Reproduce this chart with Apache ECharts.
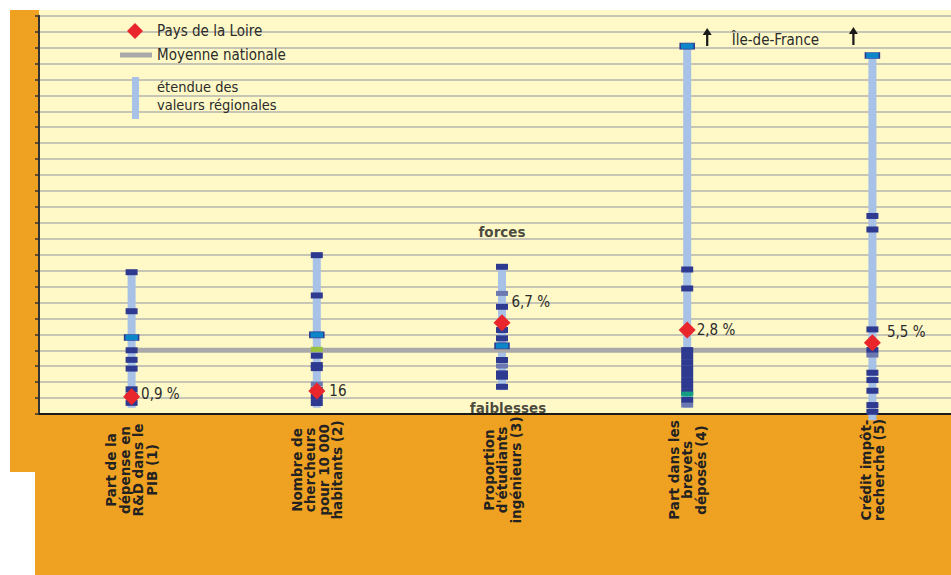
<!doctype html>
<html>
<head>
  <meta charset="utf-8">
  <script src="https://cdn.jsdelivr.net/npm/echarts@6/dist/echarts.min.js"></script>
  <style>
    html, body { margin: 0; padding: 0; background: #ffffff; }
    #main { width: 951px; height: 575px; }
  </style>
</head>
<body>
<div id="main"></div>
<script type="text/javascript">
  // indicateurs (axe x)
  var categories = [
    'Part de la\ndépense en\nR&D dans le\nPIB (1)',
    'Nombre de\nchercheurs\npour 10 000\nhabitants (2)',
    'Proportion\nd\'étudiants\ningénieurs (3)',
    'Part dans les\nbrevets\ndéposés (4)',
    'Crédit impôt-\nrecherche (5)'
  ];

  // étendue des valeurs régionales (unités de grille)
  var rangeLow  = [0.4, 0.4, 1.5, 0.4, -0.4];
  var rangeHigh = [9.0, 10.0, 9.3, 23.2, 22.65];

  var nationalMean = [4, 4, 4, 4, 4];

  var paysDeLaLoire = [1.08, 1.44, 5.72, 5.27, 4.47];
  var paysDeLaLoireLabels = ['0,9 %', '16', '6,7 %', '2,8 %', '5,5 %'];

  // valeurs des autres régions, par indicateur
  var darkMarks = [
    [8.9, 6.45, 4.0, 3.4, 2.85, 1.55, 1.15, 0.7],
    [9.97, 7.44, 3.66, 3.07, 2.88, 1.5, 1.07, 0.69],
    [9.24, 6.73, 5.27, 4.75, 3.39, 2.55, 2.34, 1.71],
    [9.07, 7.88, 4.01, 3.64, 3.26, 2.88, 2.51, 2.13, 1.76, 1.38, 0.88],
    [12.43, 11.58, 5.31, 4.01, 2.59, 2.13, 1.46, 0.56, 0.14]
  ];
  var cyanMarks  = [[4.8], [4.97], [4.28], [23.09], [22.5]];
  var slateMarks = [[], [1.88], [7.57, 3.01], [0.56], [3.7]];
  var greenMarks = [[], [4.06], [], [], []];
  var tealMarks  = [[], [], [], [1.25], []];

  // flèches Île-de-France (hors échelle)
  var arrowMarks = [[3, 23.67], [4, 23.73]];

  var annotations = [[2, 11.41, 'forces'], [2, 0.38, 'faiblesses']];

  var txtFont = "'Liberation Sans Narrow', 'DejaVu Sans Condensed', Roboto, sans-serif";
  var labelShift = [[0, -3], [3, 0], [0, -21], [0, 0], [5, -11]];
  var arrowShift = [[20, 0], [-19, 0]];

  function pairs(groups) {
    var out = [];
    groups.forEach(function (g, i) {
      g.forEach(function (v) { out.push([i, v]); });
    });
    return out;
  }

  function markerSeries(groups, color, size, extra) {
    var s = {
      type: 'scatter',
      data: pairs(groups),
      symbol: 'rect',
      symbolSize: size,
      itemStyle: { color: color, opacity: 1 },
      z: 4,
      silent: true
    };
    if (extra) { Object.assign(s.itemStyle, extra); }
    return s;
  }

  var chart = echarts.init(document.getElementById('main'), null, { renderer: 'svg' });

  var option = {
    animation: false,
    backgroundColor: '#ffffff',
    grid: { left: 39, right: -14, top: 15.7, bottom: 161, outerBoundsMode: 'none' },
    graphic: [
      { type: 'rect', z: -10, shape: { x: 10, y: 10, width: 941, height: 462 }, style: { fill: '#efa121' } },
      { type: 'rect', z: -10, shape: { x: 35, y: 472, width: 916, height: 103 }, style: { fill: '#efa121' } },
      { type: 'rect', z: -9, shape: { x: 39, y: 10, width: 912, height: 404 }, style: { fill: '#fef9c6' } },
      // légende
      { type: 'polygon', z: 20, shape: { points: [[135, 23], [143, 31], [135, 39], [127, 31]] }, style: { fill: '#e8262b' } },
      { type: 'text', z: 20, style: { x: 157, y: 31, text: 'Pays de la Loire', font: '15px ' + txtFont, fill: '#2b2b2b', verticalAlign: 'middle' } },
      { type: 'rect', z: 20, shape: { x: 120, y: 52.5, width: 32, height: 5 }, style: { fill: '#a9a9a9' } },
      { type: 'text', z: 20, style: { x: 157, y: 55, text: 'Moyenne nationale', font: '15px ' + txtFont, fill: '#2b2b2b', verticalAlign: 'middle' } },
      { type: 'rect', z: 20, shape: { x: 132, y: 77, width: 7, height: 42 }, style: { fill: '#a7c1e7' } },
      { type: 'text', z: 20, style: { x: 157, y: 87, text: 'étendue des', font: '14.5px ' + txtFont, fill: '#2b2b2b', verticalAlign: 'middle' } },
      { type: 'text', z: 20, style: { x: 157, y: 105, text: 'valeurs régionales', font: '14.5px ' + txtFont, fill: '#2b2b2b', verticalAlign: 'middle' } }
    ],
    xAxis: {
      type: 'category',
      data: categories,
      axisLine: { show: true, lineStyle: { color: '#1a1a1a', width: 2 } },
      axisTick: { show: false },
      splitLine: { show: false },
      axisLabel: {
        interval: 0,
        rotate: 90,
        align: 'center',
        verticalAlign: 'middle',
        margin: 56,
        padding: [0, 0, 12, 0],
        fontFamily: 'DejaVu Sans',
        fontWeight: 'bold',
        fontSize: 13.5,
        lineHeight: 13.5,
        color: '#222222'
      }
    },
    yAxis: {
      type: 'value',
      min: 0,
      max: 25,
      interval: 1,
      axisLine: { show: true, lineStyle: { color: '#333333', width: 2 } },
      axisTick: { show: true, length: 4, lineStyle: { color: '#333333', width: 1.5 } },
      axisLabel: { show: false },
      splitLine: { show: true, lineStyle: { color: '#b4b4ae', width: 1.5 } }
    },
    series: [
      {
        type: 'custom',
        name: 'étendue des valeurs régionales',
        data: rangeLow.map(function (lo, i) { return [i, lo, rangeHigh[i]]; }),
        encode: { x: 0, y: [1, 2] },
        clip: false,
        z: 1,
        silent: true,
        renderItem: function (params, api) {
          var lo = api.coord([api.value(0), api.value(1)]);
          var hi = api.coord([api.value(0), api.value(2)]);
          return {
            type: 'rect',
            shape: { x: lo[0] - 4, y: hi[1], width: 8, height: lo[1] - hi[1] },
            style: { fill: '#a7c1e7' }
          };
        }
      },
      {
        type: 'line',
        name: 'Moyenne nationale',
        data: nationalMean,
        symbol: 'none',
        lineStyle: { color: '#a9a9a9', width: 5 },
        z: 2,
        silent: true
      },
      markerSeries(darkMarks, '#2e3990', [12, 6]),
      markerSeries(slateMarks, '#6b79b0', [12, 5]),
      markerSeries(greenMarks, '#9bc23c', [12, 5]),
      markerSeries(tealMarks, '#159f82', [12, 5]),
      markerSeries(cyanMarks, '#0b86c8', [14, 6], { borderColor: '#2e3990', borderWidth: 1 }),
      {
        type: 'scatter',
        name: 'Pays de la Loire',
        data: paysDeLaLoire.map(function (v, i) {
          return { value: [i, v], label: { formatter: paysDeLaLoireLabels[i], offset: labelShift[i] } };
        }),
        symbol: 'diamond',
        symbolSize: [17, 17],
        itemStyle: { color: '#e8262b', opacity: 1 },
        z: 6,
        silent: true,
        label: {
          show: true,
          position: 'right',
          distance: 1,
          fontFamily: txtFont,
          fontSize: 15,
          color: '#2b2b2b'
        }
      },
      {
        type: 'scatter',
        data: arrowMarks.map(function (p, i) {
          return {
            value: p,
            symbolOffset: arrowShift[i],
            label: { show: i === 0 }
          };
        }),
        symbol: 'path://M4,0 L8,7 L5,7 L5,18 L3,18 L3,7 L0,7 Z',
        symbolSize: [9, 18],
        symbolKeepAspect: false,
        itemStyle: { color: '#1a1a1a', opacity: 1 },
        z: 6,
        silent: true,
        label: {
          formatter: 'Île-de-France',
          position: 'right',
          distance: 20,
          offset: [0, 3],
          fontFamily: txtFont,
          fontSize: 15,
          color: '#2b2b2b'
        }
      },
      {
        type: 'scatter',
        data: annotations.map(function (a, i) {
          return { value: [a[0], a[1]], label: { formatter: a[2], offset: i === 1 ? [6, 0] : [0, 0] } };
        }),
        symbolSize: 0,
        z: 7,
        silent: true,
        label: {
          show: true,
          position: 'inside',
          fontFamily: 'DejaVu Sans',
          fontWeight: 'bold',
          fontSize: 13.5,
          color: '#1a1a1a'
        }
      }
    ]
  };

  chart.setOption(option);
</script>
</body>
</html>
